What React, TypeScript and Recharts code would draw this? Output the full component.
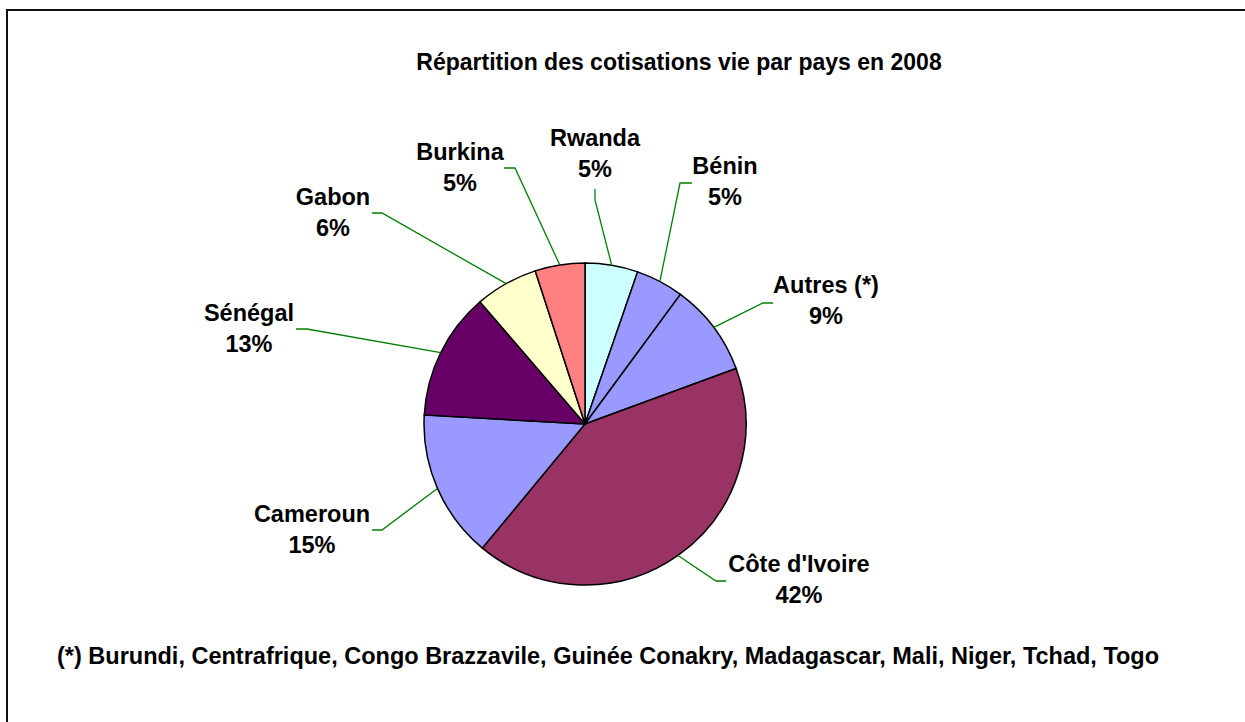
import { PieChart, Pie, Cell } from "recharts";

const countries = [
  "Rwanda",
  "Bénin",
  "Autres (*)",
  "Côte d'Ivoire",
  "Cameroun",
  "Sénégal",
  "Gabon",
  "Burkina",
];
const shares = [5.3, 4.8, 9.3, 41.6, 14.9, 12.8, 6.3, 5.0];
const sliceColors = [
  "#CCFFFF",
  "#9999FF",
  "#9999FF",
  "#993366",
  "#9999FF",
  "#660066",
  "#FFFFCC",
  "#FF8080",
];

const title = "Répartition des cotisations vie par pays en 2008";
const footnote =
  "(*) Burundi, Centrafrique, Congo Brazzavile, Guinée Conakry, Madagascar, Mali, Niger, Tchad, Togo";

const data = countries.map((name, i) => ({ name, value: shares[i] }));

// where Excel put each label (text centre / baseline) and its leader elbow
const labelSpots = [
  { tx: 595, ty: 146, ax: 595, ay: 189, kx: 595, ky: 200 },
  { tx: 725, ty: 174, ax: 692, ay: 183, kx: 680, ky: 183 },
  { tx: 826, ty: 293, ax: 773, ay: 303, kx: 763, ky: 303 },
  { tx: 799, ty: 572, ax: 726, ay: 581, kx: 716, ky: 581 },
  { tx: 312, ty: 522, ax: 372, ay: 530, kx: 382, ky: 530 },
  { tx: 249, ty: 321, ax: 296, ay: 329, kx: 307, ky: 329 },
  { tx: 333, ty: 205, ax: 372, ay: 213, kx: 382, ky: 213 },
  { tx: 460, ty: 160, ax: 504, ay: 168, kx: 515, ky: 168 },
];

const FONT = "'Liberation Sans', Arial, sans-serif";
const RAD = Math.PI / 180;

const renderLabel = (props: any) => {
  const { cx, cy, midAngle, outerRadius, index, percent, name } = props;
  const spot = labelSpots[index];
  const ex = cx + outerRadius * Math.cos(-midAngle * RAD);
  const ey = cy + outerRadius * Math.sin(-midAngle * RAD);
  return (
    <g key={`lbl-${index}`}>
      <polyline
        points={`${spot.ax},${spot.ay} ${spot.kx},${spot.ky} ${ex},${ey}`}
        fill="none"
        stroke="#008000"
        strokeWidth={1.3}
      />
      <text
        x={spot.tx}
        y={spot.ty}
        textAnchor="middle"
        fontFamily={FONT}
        fontWeight="bold"
        fontSize={23.5}
        fill="#000"
      >
        {name}
      </text>
      <text
        x={spot.tx}
        y={spot.ty + 31}
        textAnchor="middle"
        fontFamily={FONT}
        fontWeight="bold"
        fontSize={23.5}
        fill="#000"
      >
        {`${Math.round(percent * 100)}%`}
      </text>
    </g>
  );
};

export default function App() {
  return (
    <div style={{ position: "relative", width: 1245, height: 722, overflow: "hidden", background: "#fff" }}>
      <style>{"body{margin:0;overflow:hidden}"}</style>
      <div
        style={{
          position: "absolute",
          left: 6,
          top: 9,
          width: 1300,
          height: 800,
          borderLeft: "2px solid #111",
          borderTop: "2px solid #111",
        }}
      />
      <div style={{ position: "absolute", left: 0, top: 0 }}>
        <PieChart width={1245} height={722} margin={{ top: 0, right: 0, bottom: 0, left: 0 }}>
          <Pie
            data={data}
            dataKey="value"
            nameKey="name"
            cx={585}
            cy={424}
            outerRadius={161}
            startAngle={90}
            endAngle={-270}
            stroke="#000"
            strokeWidth={1.5}
            labelLine={false}
            label={renderLabel}
            isAnimationActive={false}
          >
            {data.map((d, i) => (
              <Cell key={d.name} fill={sliceColors[i]} />
            ))}
          </Pie>
        </PieChart>
      </div>
      <svg
        width={1245}
        height={722}
        style={{ position: "absolute", left: 0, top: 0, pointerEvents: "none" }}
      >
        <text x={679} y={70} textAnchor="middle" fontFamily={FONT} fontWeight="bold" fontSize={23} fill="#000">
          {title}
        </text>
        <text x={57} y={664} fontFamily={FONT} fontWeight="bold" fontSize={23.5} fill="#000">
          {footnote}
        </text>
      </svg>
    </div>
  );
}
